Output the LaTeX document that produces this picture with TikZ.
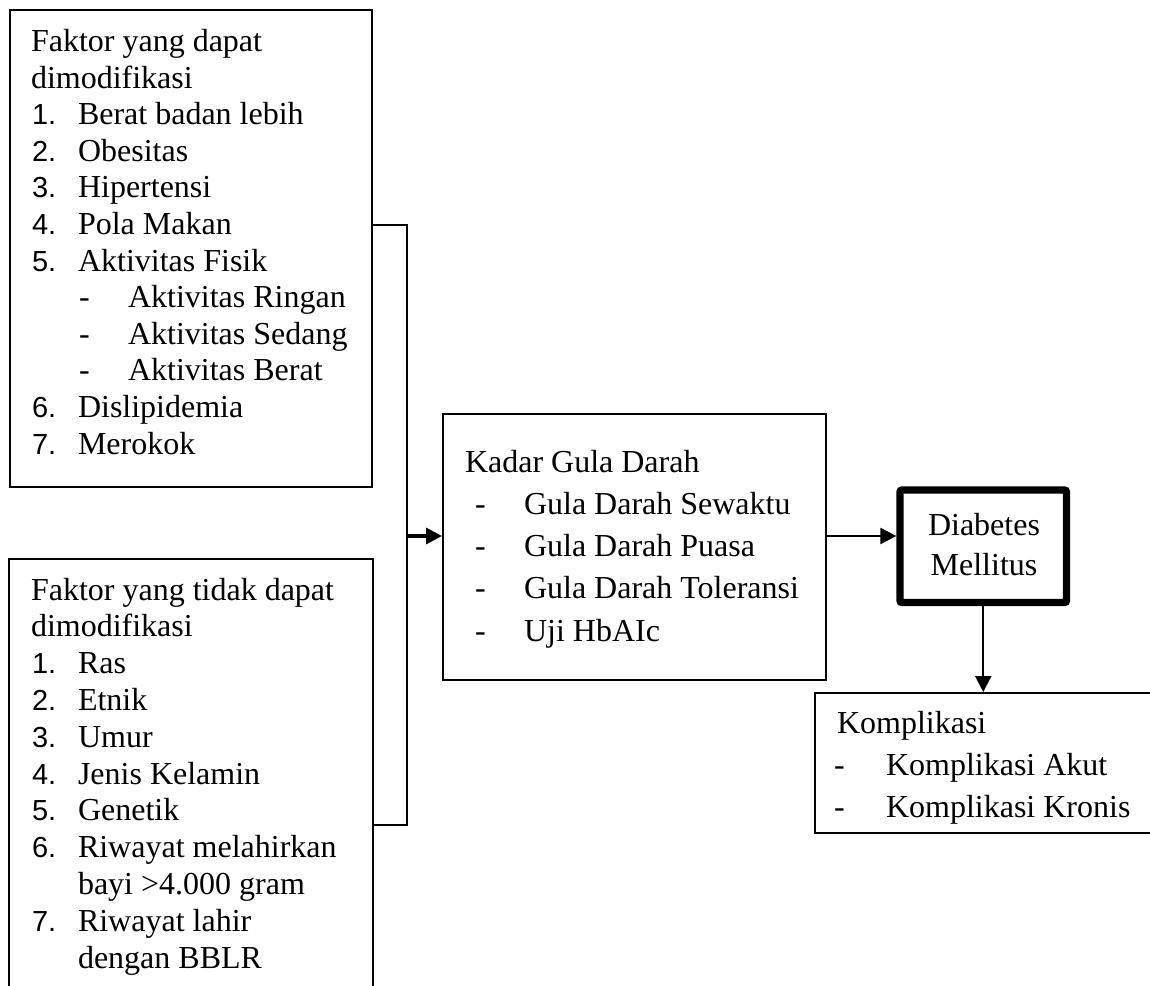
\documentclass[tikz,border=0pt]{standalone}
\usepackage{fontspec}
\setmainfont{Liberation Serif}
\newfontfamily\numfont{Liberation Sans}
\usetikzlibrary{arrows.meta}
\begin{document}
\begin{tikzpicture}[x=1pt,y=-1pt,
  txt/.style={anchor=base west, inner sep=0pt, outer sep=0pt, font=\fontsize{32}{36}\selectfont},
  num/.style={anchor=base west, inner sep=0pt, outer sep=0pt, font=\numfont\fontsize{29}{32}\selectfont},
  boxline/.style={draw=black, line width=2pt, inner sep=0pt},
  conn/.style={draw=black, line width=2pt},
  arr/.style={conn, -{Triangle[length=16pt,width=16pt]}},
]
\useasboundingbox (0,0) rectangle (1150,985);
\clip (0,0) rectangle (1150,985);

% boxes
\node[boxline, minimum width=362pt, minimum height=477pt] (b1) at (191,248.5) {};
\node[inner sep=0pt, outer sep=1pt, minimum width=362pt, minimum height=440pt] (b2) at (191,780) {};
\draw[conn] (b2.south west) -- (b2.north west) -- (b2.north east) -- (b2.south east);
\node[boxline, minimum width=383pt, minimum height=266pt] (b3) at (634.5,547) {};
\node[draw=black, line width=7.3pt, rounded corners=2pt, inner sep=0pt, minimum width=166.5pt, minimum height=112.5pt] (dm) at (983.25,546.25) {};
\node[boxline, minimum width=350pt, minimum height=140pt] (km) at (990,763) {};

% connectors
\coordinate (j1) at (407,225);
\coordinate (j2) at (407,825);
\coordinate (j3) at (407,536);
\draw[conn] (b1.east |- j1) -- (j1) -- (j2) -- (b2.east |- j2);
\draw[arr, line width=3.2pt] (j3) -- (j3 -| b3.west);
\draw[arr] (b3.east |- j3) -- (j3 -| dm.west);
\draw[arr] (dm.south) -- (dm.south |- km.north);

% box 1 text
\node[txt] (t1a) at (31,51.5) {Faktor yang dapat};
\node[txt] (t1b) at (31,88.1) {dimodifikasi};
\node[num] (n11) at (32,124.7) {1.}; \node[txt] (i11) at (78,124.7) {Berat badan lebih};
\node[num] (n12) at (32,161.3) {2.}; \node[txt] (i12) at (78,161.3) {Obesitas};
\node[num] (n13) at (32,197.9) {3.}; \node[txt] (i13) at (78,197.9) {Hipertensi};
\node[num] (n14) at (32,234.5) {4.}; \node[txt] (i14) at (78,234.5) {Pola Makan};
\node[num] (n15) at (32,271.1) {5.}; \node[txt] (i15) at (78,271.1) {Aktivitas Fisik};
\node[txt] (d1a) at (79,307.7) {-}; \node[txt] (s1a) at (128,307.7) {Aktivitas Ringan};
\node[txt] (d1b) at (79,344.3) {-}; \node[txt] (s1b) at (128,344.3) {Aktivitas Sedang};
\node[txt] (d1c) at (79,380.9) {-}; \node[txt] (s1c) at (128,380.9) {Aktivitas Berat};
\node[num] (n16) at (32,417.5) {6.}; \node[txt] (i16) at (78,417.5) {Dislipidemia};
\node[num] (n17) at (32,454.1) {7.}; \node[txt] (i17) at (78,454.1) {Merokok};

% box 2 text
\node[txt] (t2a) at (31,600) {Faktor yang tidak dapat};
\node[txt] (t2b) at (31,636.8) {dimodifikasi};
\node[num] (n21) at (32,673.6) {1.}; \node[txt] (i21) at (78,673.6) {Ras};
\node[num] (n22) at (32,710.4) {2.}; \node[txt] (i22) at (78,710.4) {Etnik};
\node[num] (n23) at (32,747.2) {3.}; \node[txt] (i23) at (78,747.2) {Umur};
\node[num] (n24) at (32,784) {4.}; \node[txt] (i24) at (78,784) {Jenis Kelamin};
\node[num] (n25) at (32,820.8) {5.}; \node[txt] (i25) at (78,820.8) {Genetik};
\node[num] (n26) at (32,857.6) {6.}; \node[txt] (i26) at (78,857.6) {Riwayat melahirkan};
\node[txt] (i26b) at (78,894.4) {bayi >4.000 gram};
\node[num] (n27) at (32,931.2) {7.}; \node[txt] (i27) at (78,931.2) {Riwayat lahir};
\node[txt] (i27b) at (78,968) {dengan BBLR};

% box 3 text
\node[txt] (t3) at (465,472) {Kadar Gula Darah};
\node[txt] (d31) at (475,514.3) {-}; \node[txt] (i31) at (524,514.3) {Gula Darah Sewaktu};
\node[txt] (d32) at (475,556.6) {-}; \node[txt] (i32) at (524,556.6) {Gula Darah Puasa};
\node[txt] (d33) at (475,598.9) {-}; \node[txt] (i33) at (524,598.9) {Gula Darah Toleransi};
\node[txt] (d34) at (475,641.2) {-}; \node[txt] (i34) at (524,641.2) {Uji HbAIc};

% diabetes text
\node[txt, anchor=base] (dt1) at (984,535) {Diabetes};
\node[txt, anchor=base] (dt2) at (984,575) {Mellitus};

% komplikasi text
\node[txt] (tk) at (837,733) {Komplikasi};
\node[txt] (dk1) at (834,775) {-}; \node[txt] (ik1) at (886,775) {Komplikasi Akut};
\node[txt] (dk2) at (834,817) {-}; \node[txt] (ik2) at (886,817) {Komplikasi Kronis};
\end{tikzpicture}
\end{document}
